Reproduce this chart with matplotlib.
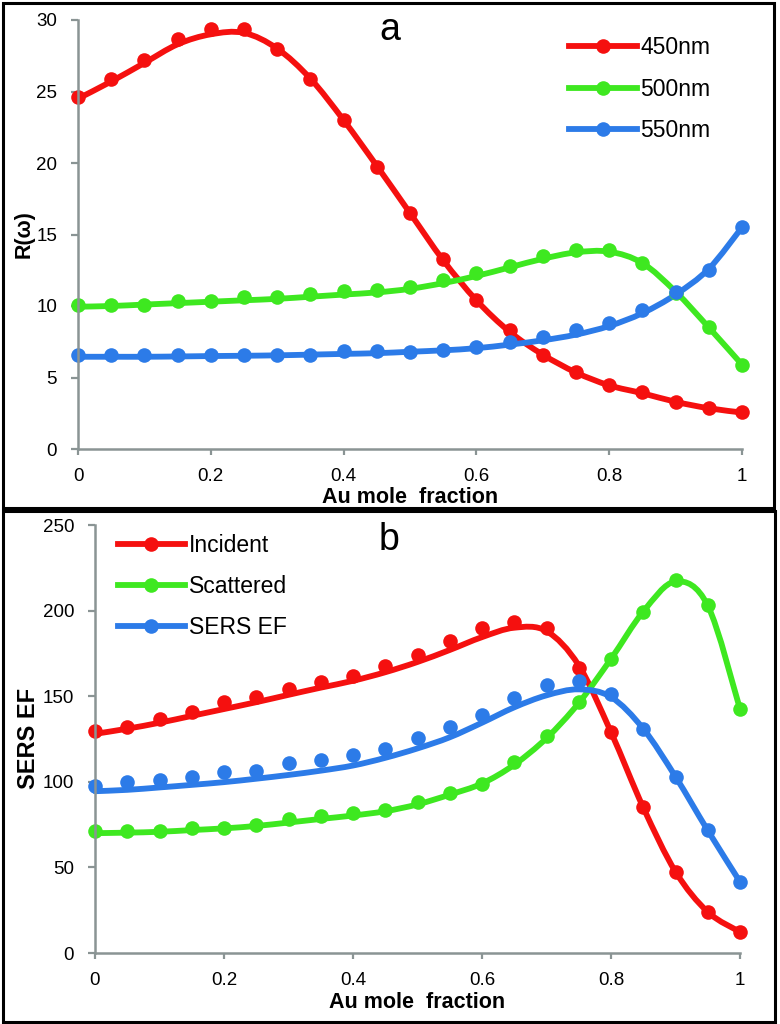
import matplotlib
matplotlib.use("Agg")
import matplotlib.pyplot as plt
import numpy as np
from matplotlib.path import Path
from matplotlib.patches import PathPatch, Rectangle
from matplotlib.lines import Line2D

plt.rcParams['font.family'] = ['Liberation Sans', 'DejaVu Sans']

# ---------------- data ----------------
au_fraction = [0.0, 0.05, 0.1, 0.15, 0.2, 0.25, 0.3, 0.35, 0.4, 0.45, 0.5,
               0.55, 0.6, 0.65, 0.7, 0.75, 0.8, 0.85, 0.9, 0.95, 1.0]

# panel a : R(omega) markers
r_450 = [24.6, 25.9, 27.2, 28.7, 29.4, 29.4, 28.0, 25.9, 23.0, 19.7, 16.5,
         13.3, 10.4, 8.3, 6.6, 5.4, 4.5, 4.0, 3.3, 2.9, 2.6]
r_500 = [10.05, 10.1, 10.1, 10.35, 10.35, 10.6, 10.6, 10.85, 11.05, 11.1, 11.3,
         11.8, 12.3, 12.8, 13.5, 13.95, 13.95, 13.0, 10.9, 8.5, 5.9]
r_550 = [6.55, 6.55, 6.55, 6.55, 6.55, 6.55, 6.55, 6.55, 6.85, 6.85, 6.8,
         6.9, 7.1, 7.5, 7.8, 8.3, 8.8, 9.7, 11.0, 12.5, 15.5]

# panel a : smoothed fit lines
r_450_line = [24.5, 25.7, 27.0, 28.3, 29.0, 29.1, 28.0, 25.9, 23.0, 19.8, 16.5,
              13.2, 10.4, 8.2, 6.6, 5.35, 4.45, 3.9, 3.3, 2.85, 2.55]
r_500_line = [9.95, 10.0, 10.1, 10.2, 10.3, 10.4, 10.5, 10.65, 10.8, 10.95, 11.2,
              11.6, 12.1, 12.7, 13.3, 13.75, 13.8, 13.0, 11.0, 8.5, 5.9]
r_550_line = [6.45, 6.45, 6.45, 6.47, 6.5, 6.52, 6.55, 6.6, 6.65, 6.7, 6.8,
              6.9, 7.05, 7.3, 7.6, 8.0, 8.6, 9.5, 10.8, 12.6, 15.5]

# panel b : SERS EF (markers)
incident_pts = [129.6, 132.0, 136.7, 140.7, 146.6, 149.6, 154.3, 158.4, 162.0, 167.7, 174.0,
                182.0, 190.0, 193.5, 190.0, 166.6, 129.0, 85.0, 47.5, 24.0, 12.3]
scattered_pts = [71.0, 71.4, 71.4, 73.3, 73.3, 75.0, 78.0, 80.0, 81.5, 83.4, 88.0,
                 93.7, 99.0, 111.5, 126.7, 146.6, 171.8, 199.4, 217.6, 203.0, 142.5]
sers_pts = [97.4, 99.9, 101.0, 103.0, 105.5, 106.3, 111.0, 113.0, 115.5, 119.0, 125.5,
            132.0, 139.0, 149.0, 156.6, 159.0, 151.0, 130.8, 103.0, 71.6, 41.6]

# panel b : smoothed fit lines
incident_line = [128.0, 131.0, 134.5, 138.5, 142.5, 146.5, 150.8, 155.0, 159.0, 164.0, 170.0,
                 177.0, 184.5, 190.0, 188.0, 168.0, 129.0, 85.0, 47.5, 24.0, 12.3]
scattered_line = [70.0, 70.3, 70.8, 71.8, 72.8, 74.2, 76.2, 78.3, 80.3, 82.8, 86.8,
                  92.5, 99.0, 110.0, 125.5, 146.0, 171.8, 199.4, 217.0, 203.0, 142.5]
sers_line = [94.5, 95.3, 96.7, 98.2, 99.8, 101.8, 104.0, 106.5, 109.5, 114.0, 119.5,
             126.0, 134.5, 143.5, 150.5, 154.0, 149.5, 131.0, 103.0, 71.6, 41.6]

labels_a = ['450nm', '500nm', '550nm']
labels_b = ['Incident', 'Scattered', 'SERS EF']
x_ticks = [0, 0.2, 0.4, 0.6, 0.8, 1.0]
x_tick_labels = ['0', '0.2', '0.4', '0.6', '0.8', '1']
y_ticks_a = [0, 5, 10, 15, 20, 25, 30]
y_ticks_b = [0, 50, 100, 150, 200, 250]

RED = '#f5100f'
GREEN = '#3ee820'
BLUE = '#2c7be8'
AXGRAY = '#8a9494'

LW = 4.2
MS = 10.5


def smooth_path(x, y):
    """Catmull-Rom style smooth curve through the points as a Bezier path."""
    pts = np.column_stack([np.asarray(x, float), np.asarray(y, float)])
    n = len(pts)
    verts = [pts[0]]
    codes = [Path.MOVETO]
    for i in range(n - 1):
        p0 = pts[i - 1] if i > 0 else pts[i]
        p1 = pts[i]
        p2 = pts[i + 1]
        p3 = pts[i + 2] if i + 2 < n else pts[i + 1]
        verts += [p1 + (p2 - p0) / 6.0, p2 - (p3 - p1) / 6.0, p2]
        codes += [Path.CURVE4] * 3
    return Path(verts, codes)


def draw_series(ax, x, ypts, yline, color):
    patch = PathPatch(smooth_path(x, yline), fill=False, edgecolor=color,
                      linewidth=LW, capstyle='round', joinstyle='round', clip_on=False)
    ax.add_patch(patch)
    ax.plot(x, ypts, 'o', color=color, markersize=MS, markeredgewidth=0, clip_on=False)


def style_axes(ax, yticks, ylim):
    ax.set_xlim(0, 1)
    ax.set_ylim(*ylim)
    for s in ['top', 'right']:
        ax.spines[s].set_visible(False)
    for s in ['left', 'bottom']:
        ax.spines[s].set_color(AXGRAY)
        ax.spines[s].set_linewidth(1.8)
    ax.set_xticks(x_ticks)
    ax.set_xticklabels(x_tick_labels)
    ax.set_yticks(yticks)
    ax.tick_params(axis='x', direction='out', length=4, width=1.6, color=AXGRAY,
                   labelsize=13.5, pad=10)
    ax.tick_params(axis='y', direction='out', length=5, width=1.6, color=AXGRAY,
                   labelsize=13.5, pad=10)


def make_legend(ax, labels, anchor):
    handles = [Line2D([], [], color=c, lw=LW, marker='o', markersize=MS, markeredgewidth=0)
               for c in (RED, GREEN, BLUE)]
    ax.legend(handles, labels, loc='upper left', bbox_to_anchor=anchor,
              frameon=False, fontsize=16.5, handlelength=2.95, handletextpad=0.15,
              labelspacing=0.8, borderpad=0, borderaxespad=0)


fig = plt.figure(figsize=(7.8, 10.24), dpi=100)

# panel borders
fig.add_artist(Rectangle((3 / 780, 1 - 508 / 1024), 771 / 780, 505 / 1024,
                         transform=fig.transFigure, fill=False, edgecolor='black', linewidth=2.2))
fig.add_artist(Rectangle((3 / 780, 1 - 1022 / 1024), 772 / 780, 511 / 1024,
                         transform=fig.transFigure, fill=False, edgecolor='black', linewidth=2.2))

# ---------------- panel a ----------------
axa = fig.add_axes([78 / 780, 1 - 449 / 1024, 664 / 780, 429 / 1024])
style_axes(axa, y_ticks_a, (0, 30))
draw_series(axa, au_fraction, r_450, r_450_line, RED)
draw_series(axa, au_fraction, r_500, r_500_line, GREEN)
draw_series(axa, au_fraction, r_550, r_550_line, BLUE)
axa.set_xlabel('Au mole  fraction', fontsize=15.5, fontweight='bold')
axa.xaxis.set_label_coords(0.5, -0.088)
axa.set_ylabel('R(ω)', fontsize=15.5, fontweight='bold')
axa.yaxis.set_label_coords(-0.066, 0.50)
make_legend(axa, labels_a, (0.74, 0.962))
fig.text(390 / 780, 1 - 40 / 1024, 'a', fontsize=27, ha='center', va='baseline')

# ---------------- panel b ----------------
axb = fig.add_axes([95 / 780, 1 - 953 / 1024, 645 / 780, 428 / 1024])
style_axes(axb, y_ticks_b, (0, 250))
draw_series(axb, au_fraction, incident_pts, incident_line, RED)
draw_series(axb, au_fraction, scattered_pts, scattered_line, GREEN)
draw_series(axb, au_fraction, sers_pts, sers_line, BLUE)
axb.set_xlabel('Au mole  fraction', fontsize=15.5, fontweight='bold')
axb.xaxis.set_label_coords(0.5, -0.092)
axb.set_ylabel('SERS EF', fontsize=17, fontweight='bold')
axb.yaxis.set_label_coords(-0.085, 0.502)
make_legend(axb, labels_b, (0.035, 0.98))
fig.text(389 / 780, 1 - 550 / 1024, 'b', fontsize=27, ha='center', va='baseline')

fig.savefig('out.png', dpi=100)
